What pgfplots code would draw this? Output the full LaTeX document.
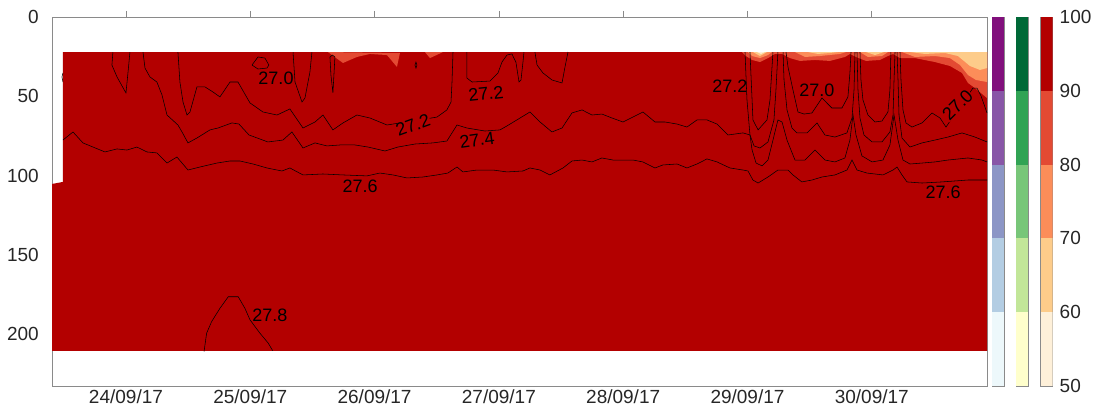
\documentclass[border=0pt]{standalone}
\usepackage{pgfplots}
\pgfplotsset{compat=1.18}
\usepackage{fontspec}
\setmainfont{Liberation Sans}
\definecolor{r1}{HTML}{FEF0D9}\definecolor{r2}{HTML}{FDCC8A}\definecolor{r3}{HTML}{FC8D59}\definecolor{r4}{HTML}{E34A33}\definecolor{r5}{HTML}{B30000}
\definecolor{g1}{HTML}{FFFFCC}\definecolor{g2}{HTML}{C2E699}\definecolor{g3}{HTML}{78C679}\definecolor{g4}{HTML}{31A354}\definecolor{g5}{HTML}{006837}
\definecolor{p1}{HTML}{EDF8FB}\definecolor{p2}{HTML}{B3CDE3}\definecolor{p3}{HTML}{8C96C6}\definecolor{p4}{HTML}{8856A7}\definecolor{p5}{HTML}{810F7C}
\definecolor{txt}{HTML}{262626}
\definecolor{frame}{HTML}{8A8A8A}
\tikzset{lab/.style={font=\fontsize{18}{20}\selectfont, text=black, inner sep=0.3pt}}
\pgfplotsset{
  cl/.style={black, line width=0.55pt, no marks},
  cbar/.style={anchor=south west, scale only axis, width=12pt, height=369pt,
    xmin=0, xmax=1, ymin=50, ymax=100, xtick=\empty, ytick=\empty,
    axis line style={frame, line width=0.6pt}},
}
\begin{document}
\begin{tikzpicture}
\path[use as bounding box] (0,0) rectangle (1099pt,407pt);
\begin{axis}[
  at={(52pt,21pt)}, anchor=south west, scale only axis,
  width=935pt, height=369pt,
  xmin=23.405, xmax=30.927, ymin=0, ymax=232.7, y dir=reverse,
  xtick={24,25,26,27,28,29,30},
  xticklabels={24/09/17,25/09/17,26/09/17,27/09/17,28/09/17,29/09/17,30/09/17},
  ytick={0,50,100,150,200},
  xtick pos=right, xticklabel pos=left,
  tick align=outside, major tick length=6pt,
  ytick style={draw=none},
  xtick style={frame, line width=0.6pt},
  axis line style={frame, line width=0.6pt},
  tick label style={font=\fontsize{19}{22}\selectfont, text=txt},
  /pgf/number format/assume math mode=true,
  xticklabel style={inner sep=0pt, yshift=2.5pt},
  yticklabel style={inner sep=0pt, xshift=-7pt},
]
% main filled region (90-100)
\addplot[fill=r5, draw=none] coordinates {(23.405,105.3) (23.493,104.0) (23.493,22.1) (30.927,22.1) (30.927,210.6) (23.405,210.6)};
% lighter patches near surface
\addplot[fill=r4, draw=none] coordinates {(25.625,22.1) (25.746,29.0) (25.858,25.2) (25.963,23.3) (26.100,24.0) (26.180,31.5) (26.204,22.7)};
\addplot[fill=r4, draw=none] coordinates {(26.405,22.1) (26.446,25.9) (26.550,22.1)};
\addplot[fill=r4, draw=none] coordinates {(28.956,22.1) (28.988,24.6) (29.037,27.1) (29.101,28.4) (29.165,25.9) (29.221,23.3) (29.278,23.3) (29.342,25.9) (29.422,27.7) (29.543,27.1) (29.663,27.7) (29.784,25.2) (29.824,23.3) (29.873,25.2) (29.953,27.7) (30.066,27.1) (30.130,24.6) (30.171,23.3) (30.227,25.9) (30.348,25.9) (30.508,28.4) (30.629,30.9) (30.726,35.3) (30.774,41.6) (30.830,44.8) (30.927,51.1) (30.927,22.1)};
\addplot[fill=r3, draw=none] coordinates {(29.004,22.1) (29.037,24.6) (29.101,25.9) (29.165,24.0) (29.197,22.1)};
\addplot[fill=r3, draw=none] coordinates {(29.382,22.1) (29.463,25.2) (29.583,24.6) (29.744,23.3) (29.792,22.1)};
\addplot[fill=r3, draw=none] coordinates {(29.905,22.1) (29.969,25.2) (30.082,24.6) (30.130,22.1)};
\addplot[fill=r3, draw=none] coordinates {(30.243,22.1) (30.348,25.2) (30.508,24.6) (30.629,25.9) (30.710,30.3) (30.774,36.6) (30.838,39.7) (30.927,41.0) (30.927,22.1)};
\addplot[fill=r2, draw=none] coordinates {(29.044,22.1) (29.101,24.6) (29.157,22.1)};
\addplot[fill=r2, draw=none] coordinates {(29.487,22.1) (29.567,23.3) (29.663,22.7) (29.728,22.1)};
\addplot[fill=r2, draw=none] coordinates {(29.953,22.1) (30.026,24.0) (30.098,22.1)};
\addplot[fill=r2, draw=none] coordinates {(30.307,22.1) (30.428,23.3) (30.589,22.7) (30.693,24.6) (30.790,30.9) (30.870,33.4) (30.927,32.2) (30.927,22.1)};
\addplot[fill=r1, draw=none] coordinates {(29.077,22.1) (29.109,23.3) (29.141,22.1)};
% ---- contour lines ----
\addplot[cl] coordinates {(23.493,35.3) (23.485,37.8) (23.493,41.0)};
\addplot[cl] coordinates {(23.895,22.1) (23.887,30.3) (23.928,37.8) (24.000,47.9) (24.016,35.3) (24.032,22.1)};
% 27.4
\addplot[cl] coordinates {(24.137,22.1) (24.153,32.2) (24.193,37.8) (24.249,41.0) (24.290,49.2) (24.330,61.8) (24.418,68.1) (24.451,72.5) (24.499,79.4) (24.571,76.3) (24.676,71.2) (24.740,70.0) (24.853,66.8) (24.909,67.5) (24.990,74.4) (25.142,78.8) (25.263,77.6) (25.335,72.5) (25.424,82.6) (25.521,79.4) (25.617,81.3) (25.722,80.7) (25.842,80.7) (25.947,82.0) (26.084,84.5) (26.188,82.0) (26.325,80.1) (26.470,79.4) (26.582,78.2) (26.663,68.1) (26.743,70.0) (26.888,71.9) (27.009,71.2) (27.065,68.7) (27.250,59.9) (27.331,66.2) (27.427,72.5) (27.508,70.0) (27.588,60.5) (27.669,58.6) (27.749,61.8) (27.829,61.2) (27.910,63.7) (27.998,66.2) (28.159,59.9) (28.256,66.2) (28.336,66.2) (28.433,67.5) (28.513,69.4) (28.594,64.9) (28.674,64.9) (28.755,67.5) (28.843,74.4) (28.964,73.1) (29.020,74.4) (29.037,83.9) (29.069,92.1) (29.117,93.9) (29.165,90.2) (29.205,77.6) (29.245,64.9) (29.278,66.2) (29.318,77.6) (29.382,90.2) (29.463,90.2) (29.543,83.9) (29.623,90.2) (29.704,91.4) (29.784,88.9) (29.824,77.6) (29.849,61.8) (29.873,74.4) (29.921,87.6) (30.002,91.4) (30.090,90.2) (30.146,80.7) (30.179,61.8) (30.211,77.6) (30.251,90.2) (30.307,92.7) (30.404,92.1) (30.508,91.4) (30.613,90.2) (30.774,88.9) (30.887,90.2) (30.927,91.4)};
% 27.2
\addplot[cl] coordinates {(24.418,22.1) (24.434,41.0) (24.459,53.6) (24.491,61.8) (24.515,59.9) (24.571,44.1) (24.636,44.1) (24.700,47.3) (24.756,50.4) (24.837,41.0) (24.901,41.0) (24.998,54.2) (25.102,59.9) (25.215,61.8) (25.319,58.0) (25.424,70.0) (25.521,66.2) (25.585,61.8) (25.665,71.2) (25.746,66.8) (25.858,61.8) (25.963,63.7) (26.100,68.1) (26.204,66.8) (26.365,64.9) (26.502,63.1) (26.582,58.6) (26.615,53.6) (26.623,41.0) (26.631,22.1)};
\addplot[cl] coordinates {(25.014,30.3) (25.062,25.2) (25.118,25.9) (25.150,30.3) (25.134,32.2) (25.062,32.8) (25.014,30.3)};
\addplot[cl] coordinates {(25.344,22.1) (25.360,41.0) (25.416,53.6) (25.440,51.1) (25.480,34.7) (25.496,22.1)};
\addplot[cl] coordinates {(25.641,25.2) (25.649,36.6) (25.665,47.9) (25.673,36.6) (25.681,25.2) (25.661,24.0) (25.641,25.2)};
\addplot[cl] coordinates {(26.325,30.3) (26.333,28.4) (26.341,30.3) (26.333,32.2) (26.325,30.3)};
\addplot[cl] coordinates {(26.743,22.1) (26.743,38.5) (26.784,41.0) (26.928,40.4) (26.993,35.3) (27.025,28.4) (27.065,24.0) (27.105,23.3) (27.137,28.4) (27.162,41.0) (27.178,39.7) (27.194,28.4) (27.202,22.1)};
\addplot[cl] coordinates {(27.290,22.1) (27.307,30.3) (27.355,35.3) (27.427,39.7) (27.508,41.6) (27.532,31.5) (27.556,22.1)};
% 27.6
\addplot[cl] coordinates {(23.493,77.6) (23.574,72.5) (23.654,79.4) (23.831,85.1) (23.928,83.2) (24.008,83.9) (24.088,82.0) (24.169,85.1) (24.249,85.7) (24.330,92.1) (24.410,88.3) (24.499,96.5) (24.595,94.6) (24.732,92.1) (24.837,90.8) (24.917,90.8) (25.022,92.7) (25.134,95.2) (25.255,97.1) (25.319,95.2) (25.424,99.6) (25.585,99.0) (25.746,99.6) (25.939,100.2) (26.043,98.4) (26.148,99.6) (26.261,101.5) (26.389,100.9) (26.502,99.6) (26.590,98.4) (26.663,94.6) (26.711,97.7) (26.824,96.5) (26.953,96.5) (27.065,97.7) (27.194,97.1) (27.250,95.2) (27.331,96.5) (27.411,99.6) (27.516,95.2) (27.588,90.8) (27.669,90.2) (27.749,91.4) (27.829,88.9) (27.918,90.2) (28.079,90.2) (28.159,91.4) (28.256,95.2) (28.320,93.3) (28.433,92.7) (28.513,95.2) (28.594,92.7) (28.674,89.5) (28.755,91.4) (28.859,95.2) (28.964,96.5) (29.004,97.1) (29.044,102.8) (29.085,104.7) (29.165,100.9) (29.245,96.5) (29.326,96.5) (29.366,99.6) (29.437,104.0) (29.519,102.8) (29.599,100.9) (29.704,99.6) (29.800,96.5) (29.841,90.2) (29.881,96.5) (29.961,98.4) (30.090,99.6) (30.171,96.5) (30.203,94.6) (30.243,99.6) (30.283,104.0) (30.404,104.7) (30.565,104.0) (30.774,102.8) (30.927,102.8)};
% 27.2 right
\addplot[cl] coordinates {(28.980,22.1) (28.996,52.3) (29.020,74.4) (29.053,81.3) (29.101,82.6) (29.165,78.8) (29.213,64.9) (29.229,46.0) (29.245,22.1)};
\addplot[cl] coordinates {(29.286,22.1) (29.294,39.7) (29.318,58.6) (29.358,70.0) (29.398,73.1) (29.479,73.1) (29.559,66.8) (29.623,74.4) (29.704,75.7) (29.800,73.1) (29.841,63.7) (29.857,46.0) (29.865,22.1)};
\addplot[cl] coordinates {(29.881,22.1) (29.889,46.0) (29.905,63.7) (29.937,74.4) (30.002,78.8) (30.082,78.8) (30.146,72.5) (30.171,61.8) (30.179,39.7) (30.187,22.1)};
\addplot[cl] coordinates {(30.203,22.1) (30.211,39.7) (30.219,61.8) (30.243,76.3) (30.307,82.0) (30.404,79.4) (30.508,77.6) (30.613,75.7) (30.726,73.1) (30.830,75.7) (30.927,78.8)};
% 27.0 right
\addplot[cl] coordinates {(29.020,22.1) (29.037,52.3) (29.044,64.9) (29.085,71.2) (29.157,64.9) (29.181,52.3) (29.205,22.1)};
\addplot[cl] coordinates {(29.310,22.1) (29.326,31.5) (29.366,46.0) (29.406,59.9) (29.455,61.2) (29.519,60.5) (29.599,51.1) (29.679,57.4) (29.760,57.4) (29.808,50.4) (29.824,35.3) (29.833,22.1)};
\addplot[cl] coordinates {(29.905,22.1) (29.913,39.7) (29.929,52.3) (29.969,61.8) (30.026,66.2) (30.082,65.6) (30.130,59.9) (30.146,46.0) (30.154,22.1)};
\addplot[cl] coordinates {(30.227,22.1) (30.235,39.7) (30.251,58.6) (30.275,66.8) (30.323,69.4) (30.404,66.8) (30.484,60.5) (30.549,63.7) (30.597,69.4) (30.814,44.8) (30.846,44.8) (30.879,49.8) (30.927,60.5)};
% 27.8
\addplot[cl] coordinates {(24.628,211) (24.649,199.4) (24.689,192.1) (24.756,183.7) (24.823,176.4) (24.903,176.4) (24.957,183.7) (24.998,191.0) (25.078,199.4) (25.145,205.7) (25.180,210.4)};
% labels
\node[lab] at (axis cs:25.207,38.5) {27.0};
\node[lab, fill=r5, rotate=20] at (axis cs:26.309,68.1) {27.2};
\node[lab, rotate=8] at (axis cs:26.824,77.6) {27.4};
\node[lab, rotate=6] at (axis cs:26.896,48.5) {27.2};
\node[lab] at (axis cs:25.883,106.6) {27.6};
\node[lab] at (axis cs:28.859,43.5) {27.2};
\node[lab] at (axis cs:29.559,46.0) {27.0};
\node[lab, fill=r5, rotate=45] at (axis cs:30.690,55.5) {27.0};
\node[lab] at (axis cs:30.573,110.3) {27.6};
\node[lab] at (axis cs:25.158,187.9) {27.8};
\end{axis}
% colour bars
\begin{axis}[cbar, at={(992pt,21pt)}]
\addplot[fill=p1, draw=none] coordinates {(0,50) (1,50) (1,60) (0,60)};
\addplot[fill=p2, draw=none] coordinates {(0,60) (1,60) (1,70) (0,70)};
\addplot[fill=p3, draw=none] coordinates {(0,70) (1,70) (1,80) (0,80)};
\addplot[fill=p4, draw=none] coordinates {(0,80) (1,80) (1,90) (0,90)};
\addplot[fill=p5, draw=none] coordinates {(0,90) (1,90) (1,100) (0,100)};
\end{axis}
\begin{axis}[cbar, at={(1016pt,21pt)}]
\addplot[fill=g1, draw=none] coordinates {(0,50) (1,50) (1,60) (0,60)};
\addplot[fill=g2, draw=none] coordinates {(0,60) (1,60) (1,70) (0,70)};
\addplot[fill=g3, draw=none] coordinates {(0,70) (1,70) (1,80) (0,80)};
\addplot[fill=g4, draw=none] coordinates {(0,80) (1,80) (1,90) (0,90)};
\addplot[fill=g5, draw=none] coordinates {(0,90) (1,90) (1,100) (0,100)};
\end{axis}
\begin{axis}[cbar, at={(1040.5pt,21pt)},
  ytick={50,60,70,80,90,100}, ytick pos=right, yticklabel pos=right,
  ytick style={draw=none},
  tick label style={font=\fontsize{19}{22}\selectfont, text=txt},
  /pgf/number format/assume math mode=true,
  yticklabel style={inner sep=0pt, xshift=7pt}]
\addplot[fill=r1, draw=none] coordinates {(0,50) (1,50) (1,60) (0,60)};
\addplot[fill=r2, draw=none] coordinates {(0,60) (1,60) (1,70) (0,70)};
\addplot[fill=r3, draw=none] coordinates {(0,70) (1,70) (1,80) (0,80)};
\addplot[fill=r4, draw=none] coordinates {(0,80) (1,80) (1,90) (0,90)};
\addplot[fill=r5, draw=none] coordinates {(0,90) (1,90) (1,100) (0,100)};
\end{axis}
\end{tikzpicture}
\end{document}
